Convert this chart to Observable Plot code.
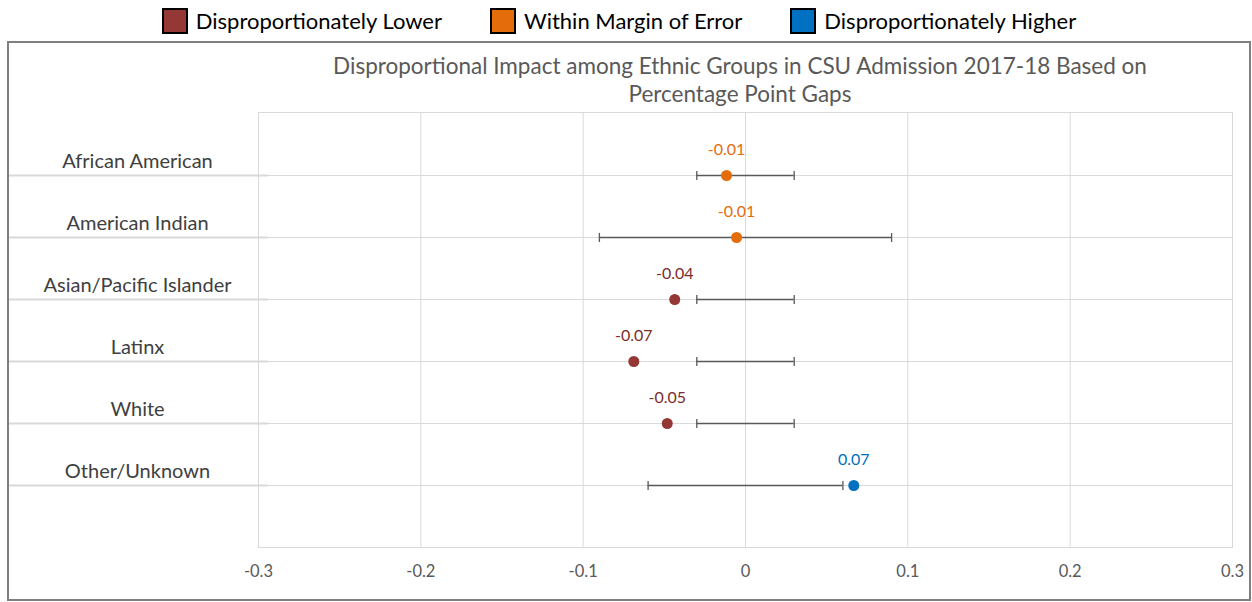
<!DOCTYPE html>
<html>
<head>
<meta charset="utf-8">
<script src="https://cdn.jsdelivr.net/npm/d3@7"></script>
<script src="https://cdn.jsdelivr.net/npm/@observablehq/plot@0.6"></script>
<style>
  body { margin: 0; background: #fff; font-family: Lato, "Open Sans", sans-serif; }
  #legend { height: 41px; display: flex; justify-content: center; align-items: center; gap: 48px; padding-right: 14px; }
  .item { display: flex; align-items: center; font-size: 22px; color: #000; }
  .sw { width: 22px; height: 22px; border: 2px solid #000; margin-right: 8px; }
  #box { position: relative; margin-left: 7px; width: 1240px; border: 2px solid #7f7f7f; }
  #title { position: absolute; top: 9px; left: 244px; width: 974px; text-align: center; font-size: 22.5px; line-height: 28px; color: #595959; }
  #chart svg { display: block; }
</style>
</head>
<body>
<div id="legend"></div>
<div id="box">
  <div id="chart"></div>
  <div id="title">Disproportional Impact among Ethnic Groups in CSU Admission 2017-18 Based on<br>Percentage Point Gaps</div>
</div>
<script>
const groups = ["African American", "American Indian", "Asian/Pacific Islander", "Latinx", "White", "Other/Unknown"];
const gaps = [-0.0117, -0.0055, -0.0436, -0.0688, -0.0482, 0.0667];
const lowerBounds = [-0.03, -0.09, -0.03, -0.03, -0.03, -0.06];
const upperBounds = [0.03, 0.09, 0.03, 0.03, 0.03, 0.06];
const statuses = ["Within Margin of Error", "Within Margin of Error", "Disproportionately Lower", "Disproportionately Lower", "Disproportionately Lower", "Disproportionately Higher"];
const statusNames = ["Disproportionately Lower", "Within Margin of Error", "Disproportionately Higher"];
const statusColors = ["#953735", "#E46C0A", "#0070C0"];
const labelColors = ["#7B2C2B", "#E46C0A", "#0070C0"];
const xTicks = [-0.3, -0.2, -0.1, 0, 0.1, 0.2, 0.3];

const rows = groups.map((g, i) => ({ group: g, gap: gaps[i], lo: lowerBounds[i], hi: upperBounds[i], status: statuses[i] }));
const ends = rows.flatMap(d => [{ group: d.group, x: d.lo }, { group: d.group, x: d.hi }]);

// legend
const legend = d3.select("#legend");
statusNames.forEach((s, i) => {
  const it = legend.append("div").attr("class", "item");
  it.append("div").attr("class", "sw").style("background", statusColors[i]);
  it.append("span").text(s);
});

const fmtX = d => d === 0 ? "0" : (+d).toFixed(1);
const capSymbol = { draw(ctx) { ctx.moveTo(0, -4.5); ctx.lineTo(0, 4.5); } };

const labelMarks = statusNames.map((s, i) =>
  Plot.text(rows.filter(d => d.status === s), {
    x: "gap", y: "group", text: d => d.gap.toFixed(2),
    fill: labelColors[i], dy: -26, fontSize: 16
  })
);

const plot = Plot.plot({
  width: 1240,
  height: 556,
  marginTop: 69,
  marginBottom: 52,
  marginLeft: 249,
  marginRight: 17,
  style: { fontFamily: "Lato, 'Open Sans', sans-serif", background: "transparent", overflow: "visible" },
  x: { domain: [-0.3, 0.3] },
  y: { type: "point", domain: groups, padding: 1 },
  color: { domain: statusNames, range: statusColors },
  marks: [
    Plot.gridX(xTicks, { stroke: "#d9d9d9", strokeOpacity: 1 }),
    Plot.gridY(groups, { stroke: "#d9d9d9", strokeOpacity: 1 }),
    Plot.frame({ stroke: "#d9d9d9" }),
    Plot.axisY({ tickSize: 259, dx: 10, tickFormat: () => "", stroke: "#d9d9d9", strokeOpacity: 1, strokeWidth: 2, label: null }),
    Plot.axisY({ tickSize: 0, tickPadding: 121, textAnchor: "middle", dy: -14, fontSize: 20, fill: "#404040", label: null }),
    Plot.axisX({ ticks: xTicks, tickFormat: fmtX, tickSize: 0, tickPadding: 18, fontSize: 16.5, fill: "#595959", label: null }),
    Plot.ruleY(rows, { y: "group", x1: "lo", x2: "hi", stroke: "#595959", strokeWidth: 1.3 }),
    Plot.dot(ends, { x: "x", y: "group", symbol: capSymbol, stroke: "#595959", strokeWidth: 1.3, fill: "none" }),
    Plot.dot(rows, { x: "gap", y: "group", fill: "status", r: 5.5, stroke: null }),
    ...labelMarks
  ]
});
document.getElementById("chart").append(plot);
</script>
</body>
</html>
